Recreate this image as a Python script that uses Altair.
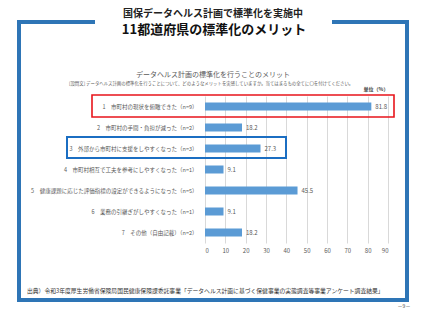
import altair as alt
import pandas as pd

categories = [
    "1　市町村の現状を俯瞰できた（n=9）",
    "2　市町村の手間・負担が減った（n=2）",
    "3　外部から市町村に支援をしやすくなった（n=3）",
    "4　市町村相互で工夫を参考にしやすくなった（n=1）",
    "5　健康課題に応じた評価指標の設定ができるようになった（n=5）",
    "6　業務の引継ぎがしやすくなった（n=1）",
    "7　その他（自由記載）（n=2）",
]
values = [81.8, 18.2, 27.3, 9.1, 45.5, 9.1, 18.2]
tick_values = [0, 10, 20, 30, 40, 50, 60, 70, 80, 90]

title1 = "国保データヘルス計画で標準化を実施中"
title2 = "11都道府県の標準化のメリット"
chart_title = "データヘルス計画の標準化を行うことのメリット"
question = "[設問文] データヘルス計画の標準化を行うことについて、どのようなメリットを実感していますか。当てはまるもの全てに〇を付けてください。"
unit = "単位（%）"
source = "出典）令和3年度厚生労働省保険局国民健康保険課委託事業「データヘルス計画に基づく保健事業の実態調査等事業アンケート調査結果」"
page = "－9－"

FONT = "Noto Sans CJK JP"
OX, OY = 205, 96
W, H = 183, 147

def px(x):
    return x - OX

def py(y):
    return y - OY

df = pd.DataFrame({"cat": categories, "val": values})
one = pd.DataFrame({"a": [0]})

xs = alt.X("val:Q", scale=alt.Scale(domain=[0, 90], nice=False),
           axis=alt.Axis(values=tick_values, grid=True, gridColor="#D9D9D9", domain=False,
                         ticks=False, labelFontSize=6, labelColor="#595959", labelPadding=4,
                         labelOverlap=False, title=None, labelFont=FONT))
ys = alt.Y("cat:N", sort=categories,
           scale=alt.Scale(paddingInner=0, paddingOuter=0),
           axis=alt.Axis(domain=False, ticks=False, labelFontSize=5.5, labelColor="#595959",
                         labelPadding=8, labelLimit=300, title=None, labelFont=FONT))

bars = alt.Chart(df).mark_bar(size=8, color="#5B9BD5").encode(x=xs, y=ys)
labels = alt.Chart(df).mark_text(align="left", dx=4, fontSize=6, color="#595959", font=FONT).encode(
    x=xs, y=ys, text=alt.Text("val:Q", format=".1f"))

def rule(x1, y1, x2, y2, color="#2E75B6", w=4):
    return alt.Chart(one).mark_rule(color=color, strokeWidth=w).encode(
        x=alt.value(px(x1)), x2=alt.value(px(x2)), y=alt.value(py(y1)), y2=alt.value(py(y2)))

def box(x1, y1, x2, y2, color, w=1.6):
    return alt.Chart(one).mark_rect(fill="transparent", stroke=color, strokeWidth=w).encode(
        x=alt.value(px(x1)), x2=alt.value(px(x2)), y=alt.value(py(y1)), y2=alt.value(py(y2)))

def text(t, x, y, size, color="#404040", weight="normal", align="center"):
    return alt.Chart(one).mark_text(text=t, fontSize=size, color=color, fontWeight=weight,
                                    align=align, baseline="middle", font=FONT).encode(
        x=alt.value(px(x)), y=alt.value(py(y)))

frame = [
    rule(17, 22, 95, 22),
    rule(332, 22, 409, 22),
    rule(19, 20, 19, 302),
    rule(407, 20, 407, 302),
    rule(17, 300, 409, 300),
]

layers = [bars, labels] + frame + [
    box(92, 95, 394, 117, "#E8151B"),
    box(67, 137, 286, 158, "#1B6EC2", 2),
    text(title1, 213, 14, 10, "#222222", "bold"),
    text(title2, 214, 30, 13, "#111111", "bold"),
    text(chart_title, 213, 75, 7, "#595959"),
    text(question, 69, 84, 4.4, "#595959", align="left"),
    text(unit, 376, 89, 5, "#404040", "bold"),
    text(source, 27, 291, 5.8, "#333333", align="left"),
    text(page, 404, 306, 5, "#404040"),
]

chart = alt.layer(*layers).properties(
    width=W, height=H,
    autosize=alt.AutoSizeParams(type="none"),
    padding={"left": OX, "top": OY, "right": 427 - OX - W, "bottom": 320 - OY - H},
    background="white",
).configure_view(strokeWidth=0)

chart.save("out.html", embed_options={"renderer": "svg", "actions": False})
